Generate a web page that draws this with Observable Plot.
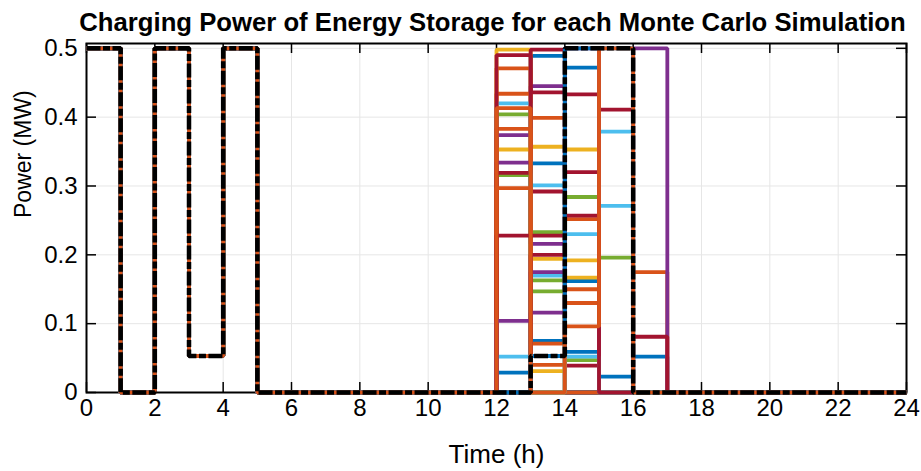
<!DOCTYPE html>
<html>
<head>
<meta charset="utf-8">
<script src="https://cdn.jsdelivr.net/npm/d3@7"></script>
<script src="https://cdn.jsdelivr.net/npm/@observablehq/plot@0.6"></script>
<style>
  body { margin: 0; background: #ffffff; }
  #chart svg { font-family: "Liberation Sans", Arial, Helvetica, sans-serif; }
</style>
</head>
<body>
<div id="chart"></div>
<script>
// ---------------- data ----------------
const titleText = "Charging Power of Energy Storage for each Monte Carlo Simulation";
const xLabel = "Time (h)";
const yLabel = "Power (MW)";
const xTicks = [0, 2, 4, 6, 8, 10, 12, 14, 16, 18, 20, 22, 24];
const yTicks = [0, 0.1, 0.2, 0.3, 0.4, 0.5];

// hours of the day (start of each hourly step) and the end of the day
const morningHours = [0, 1, 2, 3, 4, 5, 6, 7, 8, 9, 10, 11];
const afternoonHours = [12, 13, 14, 15, 16];
const eveningHours = [17, 18, 19, 20, 21, 22, 23];
const dayEnd = 24;

// charging power common to every simulation (MW)
const morningPower = [0.5, 0, 0.5, 0.053, 0.5, 0, 0, 0, 0, 0, 0, 0];
const eveningPower = [0, 0, 0, 0, 0, 0, 0];

// charging power in hours 12..16 for each Monte Carlo simulation (MW)
const simAfternoonPower = [
  [0,     0.489, 0.472, 0,     0    ],
  [0.471, 0.399, 0.252, 0,     0    ],
  [0.498, 0.357, 0.353, 0,     0    ],
  [0.374, 0.445, 0,     0,     0    ],
  [0.404, 0.233, 0.284, 0,     0    ],
  [0.420, 0.301, 0.230, 0,     0    ],
  [0,     0.292, 0.039, 0.411, 0    ],

  [0.029, 0.075, 0.162, 0,     0    ],
  [0.434, 0.071, 0.150, 0,     0    ],
  [0.353, 0.194, 0.192, 0,     0    ],
  [0.334, 0.216, 0,     0,     0    ],
  [0.316, 0.163, 0,     0.196, 0    ],
  [0,     0.170, 0,     0.379, 0    ],
  [0.319, 0.498, 0.320, 0,     0    ],

  [0,     0.333, 0.059, 0,     0    ],
  [0.383, 0.040, 0.130, 0,     0    ],
  [0,     0.031, 0,     0,     0    ],
  [0,     0.175, 0,     0,     0    ],
  [0,     0.147, 0,     0,     0    ],
  [0.052, 0,     0,     0.271, 0    ],
  [0.490, 0.436, 0.433, 0,     0    ],

  [0,     0,     0,     0.023, 0.052],
  [0.297, 0,     0,     0,     0.175],
  [0,     0,     0,     0,     0    ],
  [0,     0,     0,     0,     0    ],
  [0,     0,     0,     0,     0    ],
  [0,     0,     0,     0,     0    ],
  [0.228, 0.228, 0,     0,     0    ],

  [0,     0,     0,     0,     0    ],
  [0,     0,     0,     0,     0    ],
  [0,     0,     0.167, 0,     0    ],
  [0.104, 0.116, 0.5,   0,     0.5  ],
  [0,     0,     0.047, 0,     0    ],
  [0,     0,     0.052, 0,     0    ],
  [0,     0.200, 0.257, 0,     0.081],

  [0,     0.053, 0.5,   0.5,   0    ],
  [0.413, 0,     0.096, 0.5,   0    ]
];

// reference (deterministic) schedule for hours 12..16 (MW)
const referenceAfternoonPower = [0, 0.053, 0.5, 0.5, 0];

// MATLAB default line colour order
const lineColors = ["#0072BD", "#D95319", "#EDB120", "#7E2F8E", "#77AC30", "#4DBEEE", "#A2142F"];

// ---------------- build tables ----------------
const hours = [...morningHours, ...afternoonHours, ...eveningHours];
function profile(name, afternoon) {
  const vals = [...morningPower, ...afternoon, ...eveningPower];
  const rows = hours.map((h, i) => ({sim: name, hour: h, power: vals[i]}));
  rows.push({sim: name, hour: dayEnd, power: vals[vals.length - 1]});
  return rows;
}
const simNames = simAfternoonPower.map((_, i) => `MC ${i + 1}`);
const simRows = simAfternoonPower.flatMap((a, i) => profile(simNames[i], a));
const refRows = profile("Reference", referenceAfternoonPower);

// ---------------- layout ----------------
const W = 921, H = 471;
const mL = 86, mR = 15, mT = 43, mB = 79;
const FW = W - mL - mR, FH = H - mT - mB;
const tickLen = 10;

const chart = Plot.plot({
  width: W,
  height: H,
  marginLeft: mL,
  marginRight: mR,
  marginTop: mT,
  marginBottom: mB,
  style: {background: "#ffffff", fontFamily: '"Liberation Sans", Arial, sans-serif'},
  x: {domain: [0, 24], axis: null},
  y: {domain: [0, 0.507], axis: null},
  color: {domain: simNames, range: simNames.map((_, i) => lineColors[i % lineColors.length])},
  marks: [
    Plot.gridX(xTicks, {stroke: "#e6e6e6", strokeOpacity: 1, strokeWidth: 1}),
    Plot.gridY(yTicks, {stroke: "#e6e6e6", strokeOpacity: 1, strokeWidth: 1}),
    Plot.frame({stroke: "#000000", strokeWidth: 2}),
    Plot.tickX(xTicks, {x: d => d, insetTop: FH - tickLen, stroke: "#000", strokeWidth: 1.5}),
    Plot.tickX(xTicks, {x: d => d, insetBottom: FH - tickLen, stroke: "#000", strokeWidth: 1.5}),
    Plot.tickY(yTicks, {y: d => d, insetRight: FW - tickLen, stroke: "#000", strokeWidth: 1.5}),
    Plot.tickY(yTicks, {y: d => d, insetLeft: FW - tickLen, stroke: "#000", strokeWidth: 1.5}),
    Plot.axisX(xTicks, {tickSize: 0, tickPadding: 6, fontSize: 24, label: null, fill: "#000"}),
    Plot.axisY(yTicks, {tickSize: 0, tickPadding: 9, fontSize: 24, label: null, fill: "#000", tickFormat: d => String(d)}),
    Plot.line(simRows, {
      x: "hour", y: "power", z: "sim", stroke: "sim",
      curve: "step-after", strokeWidth: 3.8, strokeLinejoin: "miter", strokeLinecap: "butt"
    }),
    Plot.line(refRows, {
      x: "hour", y: "power", curve: "step-after",
      stroke: "#000000", strokeWidth: 4.5, strokeDasharray: "14,2.5,7,2.5",
      strokeLinejoin: "miter", strokeLinecap: "butt"
    }),
    Plot.text([titleText], {frameAnchor: "top", dx: -4, dy: -31, fontSize: 25.7, fontWeight: "bold", fill: "#000"}),
    Plot.text([xLabel], {frameAnchor: "bottom", dy: 70, fontSize: 26, fill: "#000"}),
    Plot.text([yLabel], {frameAnchor: "left", dx: -63, rotate: -90, fontSize: 23, fill: "#000"})
  ]
});
document.getElementById("chart").appendChild(chart);
</script>
</body>
</html>
